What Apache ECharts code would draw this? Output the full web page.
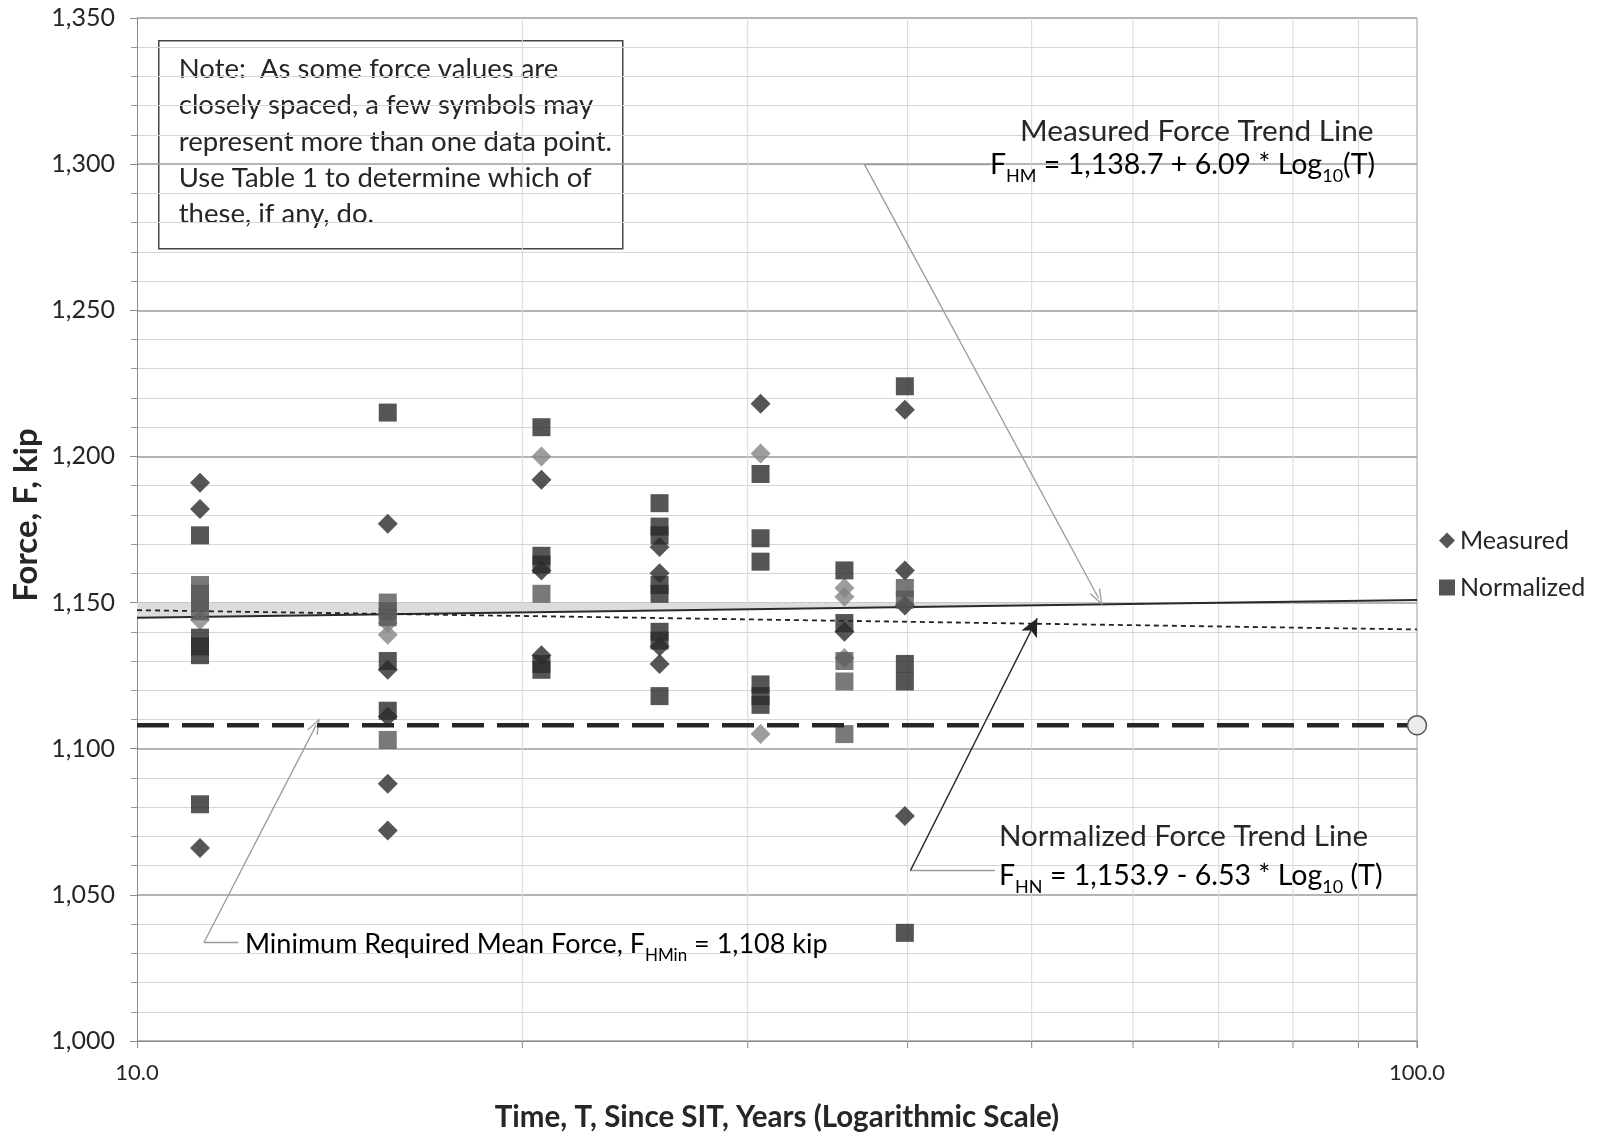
<!DOCTYPE html>
<html>
<head>
<meta charset="utf-8">
<script src="https://cdn.jsdelivr.net/npm/echarts@6/dist/echarts.min.js"></script>
<style>
html,body{margin:0;padding:0;background:#fff;}
#chart{width:1600px;height:1137px;}
</style>
</head>
<body>
<div id="chart"></div>
<script>
// years since SIT, one per inspection
var years = [11.2, 15.7, 20.7, 25.6, 30.7, 35.7, 39.8];

// forces (kip) read per inspection year
var measured = [
	[1191, 1182, 1066],
	[1177, 1127, 1111, 1088, 1072],
	[1192, 1161, 1132],
	[1169, 1160, 1135, 1129],
	[1218],
	[1140],
	[1216, 1161, 1149, 1077]
];
var measuredLight = [
	[1144],
	[1143, 1139],
	[1200],
	[],
	[1201, 1105],
	[1155, 1152, 1131],
	[]
];
var normalized = [
	[1173, 1138, 1135, 1132, 1081],
	[1215, 1130, 1113],
	[1210, 1166, 1163, 1129, 1127],
	[1184, 1176, 1173, 1156, 1153, 1140, 1137, 1118],
	[1194, 1172, 1164, 1122, 1118, 1115],
	[1161, 1143],
	[1224, 1129, 1123, 1037]
];
var normalizedLight = [
	[1156, 1153, 1150, 1147],
	[1150, 1147, 1145, 1103],
	[1153],
	[],
	[],
	[1130, 1123, 1105],
	[1155, 1151]
];

// trend lines and minimum
var trendT = [10, 100];
var measuredTrend = [1144.8, 1150.9];
var normalizedTrend = [1147.4, 1140.8];
var minForce = 1108;
var bandT = [10, 72];
var bandLow = [1144.8, 1150];
var bandHigh = [1150, 1150];

// log grid lines
var xGrid = [20, 30, 40, 50, 60, 70, 80, 90, 100];

function toPoints(groups){
	var out = [];
	for(var i=0; i<groups.length; i++){
		for(var j=0; j<groups[i].length; j++){
			out.push([years[i], groups[i][j]]);
		}
	}
	return out;
}
function pairs(xs, ys){
	var out = [];
	for(var i=0; i<xs.length; i++) out.push([xs[i], ys[i]]);
	return out;
}

var FONT = 'Lato';
var TXT = '#262626';
var DARK = '#2b2b2b';
var LIGHT = '#858585';
var LEAD = '#9a9a9a';
var VARROW = 'path://M0,12 L6,0 L12,12 L10.6,12 L6,2.6 L1.4,12 Z';

function eqRich(size){
	return {
		a: { fontFamily: FONT, fontSize: size, color: TXT, lineHeight: 40 },
		s: { fontFamily: FONT, fontSize: Math.round(size * 0.64), color: TXT, lineHeight: 18, verticalAlign: 'bottom' }
	};
}

var myChart = echarts.init(document.getElementById('chart'));

var option = {
	backgroundColor: '#fff',
	animation: false,
	textStyle: { fontFamily: FONT },
	grid: { left: 137, right: 183, top: 18, bottom: 94 },
	legend: {
		orient: 'vertical',
		left: 1434,
		top: 523,
		itemWidth: 16,
		itemHeight: 16,
		itemGap: 22,
		textStyle: { fontFamily: FONT, fontSize: 25, color: TXT },
		data: [
			{ name: 'Measured', icon: 'diamond' },
			{ name: 'Normalized', icon: 'rect' }
		]
	},
	xAxis: {
		type: 'log',
		logBase: 10,
		min: 10,
		max: 100,
		name: 'Time, T, Since SIT, Years (Logarithmic Scale)',
		nameLocation: 'middle',
		nameGap: 61,
		nameTextStyle: { fontFamily: FONT, fontSize: 29.5, fontWeight: 'bold', color: TXT },
		axisLine: { show: true, lineStyle: { color: '#8a8a8a', width: 1 } },
		axisTick: { show: true, length: 7, lineStyle: { color: '#8a8a8a' } },
		axisLabel: {
			margin: 21,
			fontSize: 22,
			color: TXT,
			formatter: function(v){ return Number(v).toFixed(1); }
		},
		splitLine: { show: false }
	},
	yAxis: {
		type: 'value',
		min: 1000,
		max: 1350,
		interval: 50,
		axisLine: { show: true, lineStyle: { color: '#8a8a8a', width: 1 } },
		axisTick: { show: true, length: 7, lineStyle: { color: '#8a8a8a' } },
		minorTick: { show: true, splitNumber: 5, length: 6, lineStyle: { color: '#9a9a9a' } },
		axisLabel: {
			margin: 22,
			fontSize: 25,
			color: TXT,
			formatter: function(v){ return v.toLocaleString('en-US'); }
		},
		splitLine: { show: true, lineStyle: { color: '#9c9c9c', width: 1.5 } },
		minorSplitLine: { show: true, lineStyle: { color: '#d6d6d6', width: 1 } }
	},
	series: [
		{
			// vertical log gridlines + x minor ticks
			type: 'custom',
			name: 'grid',
			silent: true,
			z: 1,
			clip: false,
			data: xGrid.map(function(v){ return [v, 1000]; }),
			renderItem: function(params, api){
				var bottom = api.coord([api.value(0), 1000]);
				var top = api.coord([api.value(0), 1350]);
				return {
					type: 'group',
					children: [
						{ type: 'line', shape: { x1: top[0], y1: top[1], x2: bottom[0], y2: bottom[1] },
						  style: { stroke: api.value(0) == 100 ? '#9c9c9c' : '#d9d9d9', lineWidth: 1 } },
						{ type: 'line', shape: { x1: bottom[0], y1: bottom[1], x2: bottom[0], y2: bottom[1] + 7 },
						  style: { stroke: '#8a8a8a', lineWidth: 1 } }
					]
				};
			}
		},
		{
			// shaded band above the measured trend line
			type: 'custom',
			name: 'band',
			silent: true,
			z: 2,
			data: [[bandT[0], bandLow[0]]],
			renderItem: function(params, api){
				var pts = [];
				for(var i=0; i<bandT.length; i++) pts.push(api.coord([bandT[i], bandLow[i]]));
				for(var k=bandT.length-1; k>=0; k--) pts.push(api.coord([bandT[k], bandHigh[k]]));
				return { type: 'polygon', shape: { points: pts }, style: { fill: '#dcdcdc' } };
			}
		},
		{
			type: 'line',
			name: 'measuredTrend',
			z: 3,
			symbol: 'none',
			data: pairs(trendT, measuredTrend),
			lineStyle: { color: '#2a2a2a', width: 2 }
		},
		{
			type: 'line',
			name: 'normalizedTrend',
			z: 3,
			symbol: 'none',
			data: pairs(trendT, normalizedTrend),
			lineStyle: { color: '#222', width: 1.8, type: [5, 4] }
		},
		{
			type: 'line',
			name: 'minimum',
			z: 6,
			showSymbol: true,
			symbol: 'none',
			data: [
				[trendT[0], minForce],
				{ value: [trendT[1], minForce], symbol: 'circle', symbolSize: 19,
				  itemStyle: { color: '#ececec', borderColor: '#555', borderWidth: 1.5 } }
			],
			lineStyle: { color: '#262626', width: 4.5, type: [32, 13] },
			markLine: {
				silent: true,
				symbol: ['none', 'none'],
				label: { show: false },
				lineStyle: { color: LEAD, width: 1.3, type: 'solid' },
				data: [
					[{ coord: [37.0, 1300], symbol: 'none' }, { coord: [56.4, 1151.5], symbol: VARROW, symbolSize: [12, 16] }],
					[{ coord: [37.0, 1300] }, { coord: [46.4, 1300] }],
					[{ coord: [11.28, 1033.7], symbol: 'none' }, { coord: [13.8, 1108], symbol: VARROW, symbolSize: [12, 16] }],
					[{ coord: [11.28, 1033.7] }, { coord: [12.0, 1033.7] }],
					[{ coord: [40.2, 1058.3] }, { coord: [46.8, 1058.3] }],
					[{ coord: [40.2, 1058.3], symbol: 'none' }, { coord: [50.5, 1144.6], symbol: 'arrow', symbolSize: [13, 18],
					  lineStyle: { color: '#222', width: 1.3 } }]
				]
			}
		},
		{
			type: 'scatter',
			name: 'Measured',
			z: 4,
			symbol: 'diamond',
			symbolSize: 20,
			itemStyle: { color: DARK },
			data: toPoints(measured)
		},
		{
			type: 'scatter',
			name: 'Measured',
			z: 4,
			symbol: 'diamond',
			symbolSize: 20,
			itemStyle: { color: LIGHT },
			data: toPoints(measuredLight)
		},
		{
			type: 'scatter',
			name: 'Normalized',
			z: 5,
			symbol: 'rect',
			symbolSize: 18,
			itemStyle: { color: DARK },
			data: toPoints(normalized)
		},
		{
			type: 'scatter',
			name: 'Normalized',
			z: 5,
			symbol: 'rect',
			symbolSize: 18,
			itemStyle: { color: '#575757' },
			data: toPoints(normalizedLight)
		}
	],
	graphic: [
		{
			type: 'text', x: 26, y: 515, rotation: Math.PI / 2, z: 10,
			style: { text: 'Force, F, kip', font: 'bold 33px Lato', fill: TXT, align: 'center', verticalAlign: 'middle' }
		},
		{
			type: 'group',
			left: 158,
			top: 40,
			z: 10,
			children: [
				{ type: 'rect', shape: { x: 0, y: 0, width: 464, height: 208 },
				  style: { fill: '#fff', stroke: '#444', lineWidth: 1.5 } },
				{ type: 'text', x: 20, y: 10.5,
				  style: {
					text: 'Note:  As some force values are\nclosely spaced, a few symbols may\nrepresent more than one data point.\nUse Table 1 to determine which of\nthese, if any, do.',
					font: '27.5px Lato', fill: TXT, lineHeight: 36.2
				  } }
			]
		},
		{
			type: 'text', x: 1020, y: 131, z: 10,
			style: { text: 'Measured Force Trend Line', font: '29.8px Lato', fill: TXT, verticalAlign: 'middle' }
		},
		{
			type: 'text', x: 990, y: 165, z: 10,
			style: {
				text: '{a|F}{s|HM}{a| = 1,138.7 + 6.09 * Log}{s|10}{a|(T)}',
				verticalAlign: 'middle',
				rich: eqRich(28.5)
			}
		},
		{
			type: 'text', x: 999, y: 836, z: 10,
			style: { text: 'Normalized Force Trend Line', font: '29.5px Lato', fill: TXT, verticalAlign: 'middle' }
		},
		{
			type: 'text', x: 999, y: 876, z: 10,
			style: {
				text: '{a|F}{s|HN}{a| = 1,153.9 - 6.53 * Log}{s|10}{a| (T)}',
				verticalAlign: 'middle',
				rich: eqRich(28.5)
			}
		},
		{
			type: 'text', x: 245, y: 944, z: 10,
			style: {
				text: '{a|Minimum Required Mean Force, F}{s|HMin}{a| = 1,108 kip}',
				verticalAlign: 'middle',
				rich: eqRich(27)
			}
		}
	]
};
myChart.setOption(option);
</script>
</body>
</html>
